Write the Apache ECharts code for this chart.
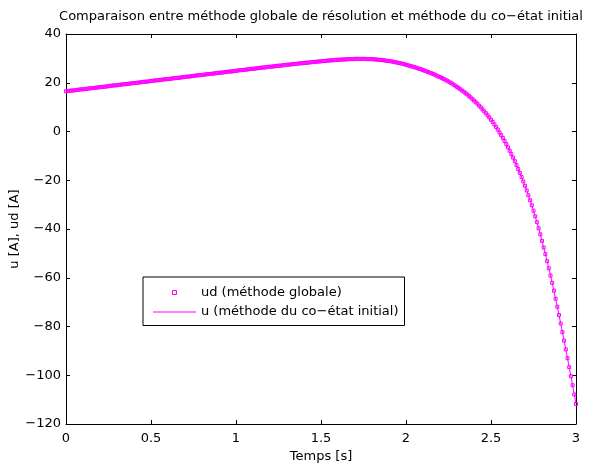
<!DOCTYPE html>
<html>
<head>
<meta charset="utf-8">
<script src="https://cdn.jsdelivr.net/npm/echarts@6/dist/echarts.min.js"></script>
<style>
html,body{margin:0;padding:0;background:#fff;}
#chart{width:596px;height:466px;}
</style>
</head>
<body>
<div id="chart"></div>
<script>
// ---- data ----
const titleText = 'Comparaison entre méthode globale de résolution et méthode du co\u2212état initial';
const xAxisName = 'Temps [s]';
const yAxisName = 'u [A], ud [A]';
const seriesNames = ['ud (méthode globale)', 'u (méthode du co\u2212état initial)'];
const xTicks = [0, 0.5, 1, 1.5, 2, 2.5, 3];
const yTicks = [-120, -100, -80, -60, -40, -20, 0, 20, 40];
const sampleStep = 0.01; // time between samples [s]

// ud : global method, one value per sample (t = 0 .. 3 s)
const udValues = [
  16.5,16.6,16.7,16.8,16.8,16.9,17.0,17.1,17.2,17.3,
  17.3,17.4,17.5,17.6,17.7,17.8,17.8,17.9,18.0,18.1,
  18.2,18.3,18.3,18.4,18.5,18.6,18.7,18.8,18.9,18.9,
  19.0,19.1,19.2,19.3,19.4,19.4,19.5,19.6,19.7,19.8,
  19.9,19.9,20.0,20.1,20.2,20.3,20.4,20.4,20.5,20.6,
  20.7,20.8,20.9,21.0,21.0,21.1,21.2,21.3,21.4,21.5,
  21.5,21.6,21.7,21.8,21.9,22.0,22.0,22.1,22.2,22.3,
  22.4,22.5,22.5,22.6,22.7,22.8,22.9,23.0,23.1,23.1,
  23.2,23.3,23.4,23.5,23.6,23.6,23.7,23.8,23.9,24.0,
  24.1,24.1,24.2,24.3,24.4,24.5,24.6,24.6,24.7,24.8,
  24.9,25.0,25.1,25.2,25.2,25.3,25.4,25.5,25.6,25.7,
  25.7,25.8,25.9,26.0,26.1,26.2,26.2,26.3,26.4,26.5,
  26.6,26.6,26.7,26.8,26.9,27.0,27.0,27.1,27.2,27.3,
  27.4,27.4,27.5,27.6,27.7,27.7,27.8,27.9,28.0,28.0,
  28.1,28.2,28.2,28.3,28.4,28.5,28.5,28.6,28.7,28.7,
  28.8,28.9,28.9,29.0,29.1,29.1,29.2,29.2,29.3,29.4,
  29.4,29.5,29.5,29.5,29.6,29.6,29.7,29.7,29.7,29.7,
  29.8,29.8,29.8,29.8,29.8,29.8,29.8,29.7,29.7,29.7,
  29.7,29.6,29.6,29.5,29.4,29.4,29.3,29.2,29.1,29.0,
  28.9,28.8,28.7,28.5,28.4,28.2,28.1,27.9,27.8,27.6,
  27.4,27.2,27.0,26.8,26.6,26.4,26.2,25.9,25.7,25.5,
  25.2,24.9,24.7,24.4,24.1,23.9,23.6,23.3,22.9,22.6,
  22.3,22.0,21.6,21.3,20.9,20.5,20.1,19.7,19.2,18.8,
  18.3,17.8,17.3,16.8,16.3,15.7,15.2,14.6,14.0,13.3,
  12.7,12.0,11.4,10.6,9.9,9.1,8.3,7.5,6.6,5.8,
  4.8,3.9,2.9,1.8,0.8,-0.4,-1.5,-2.7,-3.9,-5.2,
  -6.5,-7.9,-9.3,-10.7,-12.2,-13.8,-15.4,-17.0,-18.7,-20.5,
  -22.3,-24.2,-26.2,-28.2,-30.3,-32.5,-34.8,-37.2,-39.7,-42.2,
  -44.9,-47.6,-50.3,-53.2,-56.1,-59.1,-62.1,-65.3,-68.6,-71.9,
  -75.3,-78.8,-82.3,-85.8,-89.4,-93.0,-96.7,-100.4,-104.1,-107.9,
  -111.8
];
// u : initial co-state method; coincides with ud at the resolution of the picture
const uValues = udValues.slice();

// ---- chart ----
const FONT = '"DejaVu Sans", Verdana, sans-serif';
const FS = 13;
const MAG = '#ff00ff';
const xMin = xTicks[0], xMax = xTicks[xTicks.length - 1], xInt = xTicks[1] - xTicks[0];
const yMin = yTicks[0], yMax = yTicks[yTicks.length - 1], yInt = yTicks[1] - yTicks[0];
const times = udValues.map((_, i) => +(i * sampleStep).toFixed(2));
const fmt = v => String(v).replace('-', '\u2212');

const axisCommon = {
  axisLine: { show: true, onZero: false, lineStyle: { color: '#000', width: 1 } },
  axisTick: { show: true, inside: true, length: 4, lineStyle: { color: '#000', width: 1 } },
  splitLine: { show: false },
  axisLabel: { color: '#000', fontSize: FS, fontFamily: FONT, formatter: fmt }
};

const chart = echarts.init(document.getElementById('chart'), null, { renderer: 'canvas' });
chart.setOption({
  animation: false,
  backgroundColor: '#fff',
  title: {
    text: titleText,
    left: 321, top: 10, padding: 0,
    textAlign: 'center',
    textStyle: { fontSize: FS, fontWeight: 'normal', color: '#000', fontFamily: FONT }
  },
  grid: { left: 66, top: 34, width: 510, height: 390, containLabel: false, outerBoundsMode: 'none' },
  legend: {
    orient: 'vertical',
    left: 143, top: 277,
    padding: [8, 6, 6, 10],
    itemGap: 4.5,
    itemWidth: 43, itemHeight: 4,
    symbolKeepAspect: true,
    backgroundColor: '#fff',
    borderColor: '#000', borderWidth: 1, borderRadius: 0,
    textStyle: { fontSize: FS, color: '#000', fontFamily: FONT, lineHeight: 15 },
    data: [
      { name: seriesNames[0], icon: 'path://M0,0H1V1H0Z',
        itemStyle: { color: 'rgba(0,0,0,0)', borderColor: MAG, borderWidth: 1, opacity: 1 } },
      { name: seriesNames[1], icon: 'path://M0,0H43V1H0Z',
        itemStyle: { color: MAG, borderColor: MAG, borderWidth: 0, opacity: 1 } }
    ]
  },
  xAxis: [
    Object.assign({}, axisCommon, {
      type: 'value', position: 'bottom', min: xMin, max: xMax, interval: xInt,
      name: xAxisName, nameLocation: 'middle', nameGap: 26, nameMoveOverlap: false,
      nameTextStyle: { fontSize: FS, color: '#000', fontFamily: FONT },
      axisLabel: Object.assign({}, axisCommon.axisLabel, { margin: 8 })
    }),
    Object.assign({}, axisCommon, {
      type: 'value', position: 'top', min: xMin, max: xMax, interval: xInt,
      axisLabel: { show: false }
    })
  ],
  yAxis: [
    Object.assign({}, axisCommon, {
      type: 'value', position: 'left', min: yMin, max: yMax, interval: yInt,
      name: yAxisName, nameLocation: 'middle', nameGap: 45, nameRotate: 90, nameMoveOverlap: false,
      nameTextStyle: { fontSize: FS, color: '#000', fontFamily: FONT },
      axisLabel: Object.assign({}, axisCommon.axisLabel, { margin: 5 })
    }),
    Object.assign({}, axisCommon, {
      type: 'value', position: 'right', min: yMin, max: yMax, interval: yInt,
      axisLabel: { show: false }
    })
  ],
  series: [
    {
      name: seriesNames[0], type: 'line', xAxisIndex: 0, yAxisIndex: 0,
      data: times.map((t, i) => [t, udValues[i]]),
      symbol: 'rect', symbolSize: 3, showSymbol: true, showAllSymbol: true,
      itemStyle: { color: 'rgba(0,0,0,0)', borderColor: MAG, borderWidth: 1 },
      lineStyle: { opacity: 0 },
      emphasis: { disabled: true }, z: 3
    },
    {
      name: seriesNames[1], type: 'line', xAxisIndex: 0, yAxisIndex: 0,
      data: times.map((t, i) => [t, uValues[i]]),
      symbol: 'none', showSymbol: false,
      lineStyle: { color: MAG, width: 1 },
      itemStyle: { color: MAG },
      emphasis: { disabled: true }, z: 2
    }
  ]
});
</script>
</body>
</html>
